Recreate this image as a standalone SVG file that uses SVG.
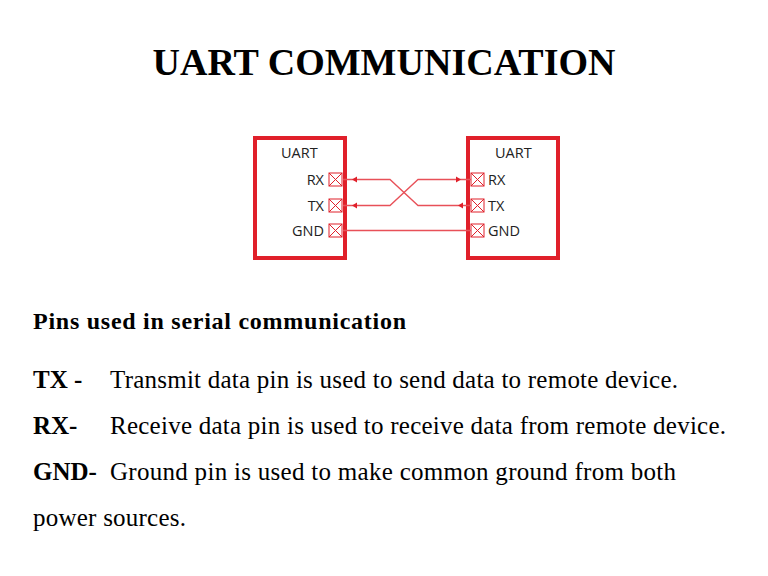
<svg xmlns="http://www.w3.org/2000/svg" width="768" height="576" viewBox="0 0 768 576">
<style>
.t{font-family:"Liberation Serif",serif;fill:#000}
.b{font-weight:bold}
.box{fill:#fff;stroke:#e0202a;stroke-width:4}
.pin{fill:#fff;stroke:#e0202a;stroke-width:1}
.w{fill:none;stroke:#e85058;stroke-width:1.3}
.l{font-family:"Open Sans","DejaVu Sans",sans-serif;font-size:14.5px;fill:#222}
.a{fill:#e0202a}
</style>
<rect width="768" height="576" fill="#fff"/>
<text class="t b" x="384" y="75" font-size="38" text-anchor="middle" textLength="463">UART COMMUNICATION</text>
<g id="uart-left">
<rect class="box" x="255" y="138" width="90" height="120"/>
<text class="l" x="281" y="158">UART</text>
<text class="l" x="324" y="185" text-anchor="end">RX</text>
<text class="l" x="324" y="211" text-anchor="end">TX</text>
<text class="l" x="324" y="236" text-anchor="end">GND</text>
<g class="pin"><rect x="329" y="173" width="13" height="13"/><path d="M329 173l13 13M342 173l-13 13"/>
<rect x="329" y="199" width="13" height="13"/><path d="M329 199l13 13M342 199l-13 13"/>
<rect x="329" y="224" width="13" height="13"/><path d="M329 224l13 13M342 224l-13 13"/></g>
</g>
<g id="uart-right">
<rect class="box" x="468" y="138" width="90" height="120"/>
<text class="l" x="495" y="158">UART</text>
<text class="l" x="488" y="185">RX</text>
<text class="l" x="488" y="211">TX</text>
<text class="l" x="488" y="236">GND</text>
<g class="pin"><rect x="471" y="173" width="13" height="13"/><path d="M471 173l13 13M484 173l-13 13"/>
<rect x="471" y="199" width="13" height="13"/><path d="M471 199l13 13M484 199l-13 13"/>
<rect x="471" y="224" width="13" height="13"/><path d="M471 224l13 13M484 224l-13 13"/></g>
</g>
<g id="connectors">
<path class="w" d="M343 179.5H390L418 205.5H471"/>
<path class="w" d="M343 205.5H390L418 179.5H471"/>
<path class="w" d="M343 230.5H471"/>
<path class="a" d="M352 179.5l5-3v6z"/>
<path class="a" d="M352 205.5l5-3v6z"/>
<path class="a" d="M461 179.5l-5-3v6z"/>
<path class="a" d="M458 205.5l5-3v6z"/>
</g>
<text class="t b" x="33" y="329" font-size="24" textLength="373">Pins used in serial communication</text>
<g font-size="25">
<text class="t b" x="33" y="388">TX -</text><text class="t" x="110" y="388" textLength="568">Transmit data pin is used to send data to remote device.</text>
<text class="t b" x="33" y="434">RX-</text><text class="t" x="110" y="434" textLength="616">Receive data pin is used to receive data from remote device.</text>
<text class="t b" x="33" y="480">GND-</text><text class="t" x="110" y="480" textLength="566">Ground pin is used to make common ground from both</text>
<text class="t" x="33" y="526" textLength="153">power sources.</text>
</g>
</svg>
